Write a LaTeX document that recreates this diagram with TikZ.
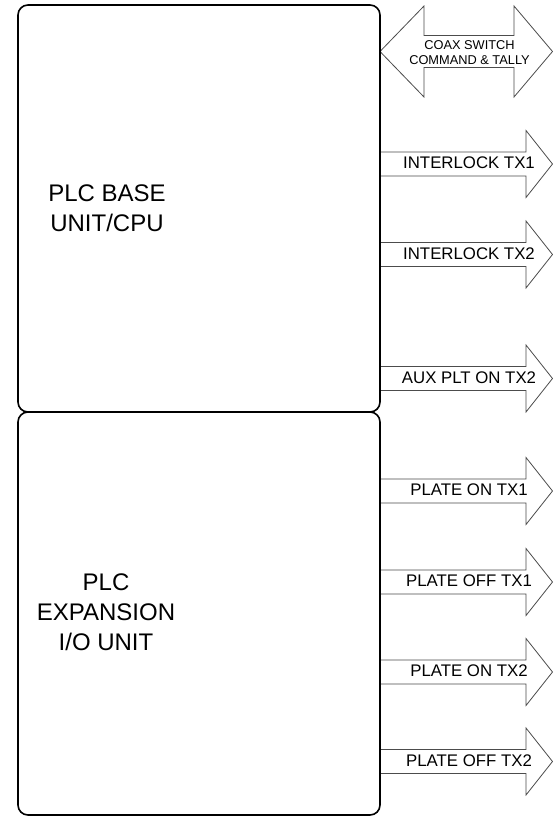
\documentclass[tikz,border=0pt]{standalone}
\usepackage{fontspec}
\setmainfont{Liberation Sans}
\begin{document}
\begin{tikzpicture}[x=1pt,y=-1pt,
  unitbox/.style={draw=black, line width=1.6pt, rounded corners=10pt, inner sep=0pt},
  sigarrow/.style={draw=black!70, line width=0.8pt, line join=miter},
  siglabel/.style={font=\fontsize{16.8}{18}\selectfont, inner sep=0pt},
  coaxlabel/.style={font=\fontsize{12.8}{14.7}\selectfont, align=center, inner sep=0pt},
  unitlabel/.style={font=\fontsize{24}{30}\selectfont, align=center, inner sep=0pt}]
\useasboundingbox (0,0) rectangle (553,817);
\fill[white] (0,0) rectangle (553,817);
% double arrow
\draw[sigarrow] (380,51.5) -- (424,6) -- (424,35.5) -- (514,35.5) -- (514,6) -- (552.5,51.5)
  -- (514,97) -- (514,67.5) -- (424,67.5) -- (424,97) -- cycle;
\node[coaxlabel] (coax) at (469.5,52.5) {COAX SWITCH\\COMMAND \& TALLY};
% single arrows
\foreach \yc/\txt/\nm in {164/INTERLOCK TX1/ilk1, 254.5/INTERLOCK TX2/ilk2,
  378.5/AUX PLT ON TX2/aux2, 491/PLATE ON TX1/pon1, 582/PLATE OFF TX1/poff1,
  672/PLATE ON TX2/pon2, 761.5/PLATE OFF TX2/poff2} {
  \draw[sigarrow] (380,\yc-12) -- (526,\yc-12) -- (526,\yc-33.5) -- (552.5,\yc)
    -- (526,\yc+33.5) -- (526,\yc+12) -- (380,\yc+12);
  \node[siglabel] (\nm) at (469,\yc-1) {\txt};
}
% units
\node[unitbox, minimum width=362pt, minimum height=407pt] (base) at (199,208.5) {};
\node[unitbox, minimum width=362pt, minimum height=403pt] (expn) at (199,613.5) {};
\node[unitlabel] (baselbl) at (107,208) {PLC BASE\\UNIT/CPU};
\node[unitlabel] (explbl) at (106,612.5) {PLC\\EXPANSION\\I/O UNIT};
\end{tikzpicture}
\end{document}
